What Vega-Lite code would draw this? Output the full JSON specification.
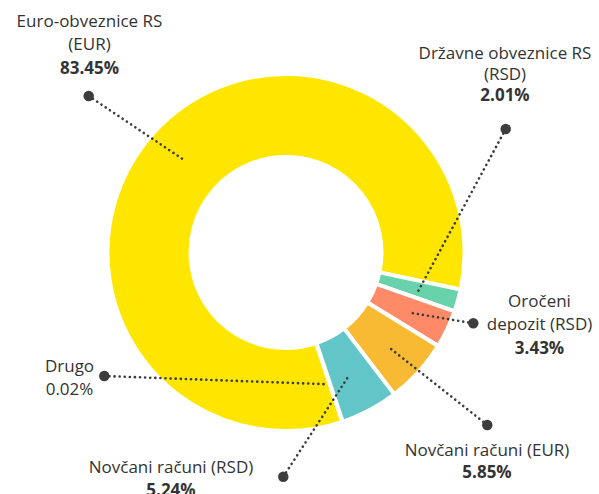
{
  "$schema": "https://vega.github.io/schema/vega-lite/v6.json",
  "width": 599,
  "height": 494,
  "padding": 0,
  "autosize": {"type": "none"},
  "background": "white",
  "config": {"view": {"stroke": null}},
  "datasets": {
    "slices": [
      {"i": 1, "name": "Euro-obveznice RS (EUR)", "share": 83.45},
      {"i": 2, "name": "Državne obveznice RS (RSD)", "share": 2.01},
      {"i": 3, "name": "Oročeni depozit (RSD)", "share": 3.43},
      {"i": 4, "name": "Novčani računi (EUR)", "share": 5.85},
      {"i": 5, "name": "Novčani računi (RSD)", "share": 5.24},
      {"i": 6, "name": "Drugo", "share": 0.02}
    ],
    "leaders": [
      {"name": "Euro-obveznice RS (EUR)", "u1": -1.1178, "v1": 0.8867, "u2": -0.5836, "v2": 0.528},
      {"name": "Državne obveznice RS (RSD)", "u1": 1.2448, "v1": 0.6997, "u2": 0.7496, "v2": -0.2181},
      {"name": "Oročeni depozit (RSD)", "u1": 1.0612, "v1": -0.4011, "u2": 0.7025, "v2": -0.3411},
      {"name": "Novčani računi (EUR)", "u1": 1.1405, "v1": -0.9773, "u2": 0.5739, "v2": -0.5297},
      {"name": "Novčani računi (RSD)", "u1": -0.0153, "v1": -1.2703, "u2": 0.3586, "v2": -0.6941},
      {"name": "Drugo", "u1": -1.0295, "v1": -0.6997, "u2": 0.2397, "v2": -0.7467}
    ],
    "labels": [
      {"t": "Euro-obveznice RS", "u": -1.1133, "v": 1.2776, "w": "normal"},
      {"t": "(EUR)", "u": -1.1133, "v": 1.1473, "w": "normal"},
      {"t": "83.45%", "u": -1.1133, "v": 1.0113, "w": "bold"},
      {"t": "Državne obveznice RS", "u": 1.2408, "v": 1.0963, "w": "normal"},
      {"t": "(RSD)", "u": 1.2408, "v": 0.9773, "w": "normal"},
      {"t": "2.01%", "u": 1.2408, "v": 0.8601, "w": "bold"},
      {"t": "Oročeni", "u": 1.4363, "v": -0.3088, "w": "normal"},
      {"t": "depozit (RSD)", "u": 1.4363, "v": -0.4419, "w": "normal"},
      {"t": "3.43%", "u": 1.4363, "v": -0.5751, "w": "bold"},
      {"t": "Novčani računi (EUR)", "u": 1.1388, "v": -1.1558, "w": "normal"},
      {"t": "5.85%", "u": 1.1388, "v": -1.2776, "w": "bold"},
      {"t": "Novčani računi (RSD)", "u": -0.6516, "v": -1.2521, "w": "normal"},
      {"t": "5.24%", "u": -0.6516, "v": -1.3768, "w": "bold"},
      {"t": "Drugo", "u": -1.2266, "v": -0.6799, "w": "normal"},
      {"t": "0.02%", "u": -1.2266, "v": -0.8074, "w": "normal"}
    ]
  },
  "layer": [
    {
      "data": {"name": "slices"},
      "mark": {"type": "arc", "radius": 178.5, "radius2": 95.5, "stroke": "white", "strokeWidth": 4},
      "encoding": {
        "theta": {"field": "share", "type": "quantitative", "stack": true, "scale": {"range": [2.82, 9.1032]}},
        "order": {"field": "i", "type": "quantitative"},
        "color": {
          "field": "name", "type": "nominal", "legend": null,
          "scale": {
            "domain": ["Euro-obveznice RS (EUR)", "Državne obveznice RS (RSD)", "Oročeni depozit (RSD)", "Novčani računi (EUR)", "Novčani računi (RSD)", "Drugo"],
            "range": ["#FFE600", "#68D2AA", "#FF8A68", "#F8BA33", "#62C6C9", "#FFE600"]
          }
        },
        "x": {"datum": 0, "type": "quantitative", "scale": {"domain": [-1.6204, 1.7734], "nice": false, "zero": false}, "axis": null},
        "y": {"datum": 0, "type": "quantitative", "scale": {"domain": [-1.3683, 1.4306], "nice": false, "zero": false}, "axis": null}
      }
    },
    {
      "data": {"name": "leaders"},
      "mark": {"type": "rule", "color": "#3d3d3d", "strokeWidth": 2.6, "strokeCap": "round", "strokeDash": [0.1, 5]},
      "encoding": {
        "x": {"field": "u1", "type": "quantitative", "scale": {"domain": [-1.6204, 1.7734], "nice": false, "zero": false}, "axis": null},
        "y": {"field": "v1", "type": "quantitative", "scale": {"domain": [-1.3683, 1.4306], "nice": false, "zero": false}, "axis": null},
        "x2": {"field": "u2"},
        "y2": {"field": "v2"}
      }
    },
    {
      "data": {"name": "leaders"},
      "mark": {"type": "point", "filled": true, "color": "#3d3d3d", "opacity": 1, "size": 110},
      "encoding": {
        "x": {"field": "u1", "type": "quantitative", "axis": null},
        "y": {"field": "v1", "type": "quantitative", "axis": null}
      }
    },
    {
      "data": {"name": "labels"},
      "transform": [{"filter": "datum.w == 'normal'"}],
      "mark": {"type": "text", "align": "center", "baseline": "alphabetic", "font": "Open Sans", "fontSize": 17, "color": "#333333"},
      "encoding": {
        "x": {"field": "u", "type": "quantitative", "axis": null},
        "y": {"field": "v", "type": "quantitative", "axis": null},
        "text": {"field": "t"}
      }
    },
    {
      "data": {"name": "labels"},
      "transform": [{"filter": "datum.w == 'bold'"}],
      "mark": {"type": "text", "align": "center", "baseline": "alphabetic", "font": "Open Sans", "fontSize": 17, "fontWeight": "bold", "color": "#333333"},
      "encoding": {
        "x": {"field": "u", "type": "quantitative", "axis": null},
        "y": {"field": "v", "type": "quantitative", "axis": null},
        "text": {"field": "t"}
      }
    }
  ]
}
